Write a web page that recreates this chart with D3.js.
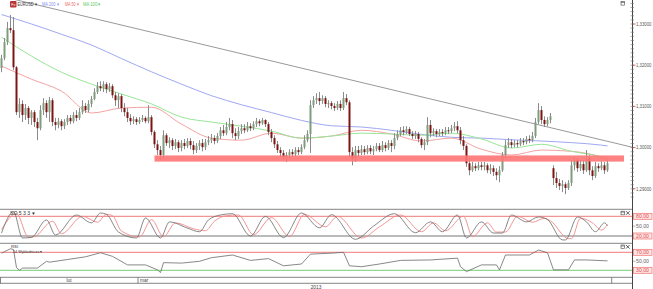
<!DOCTYPE html>
<html>
<head>
<meta charset="utf-8">
<script src="https://cdn.jsdelivr.net/npm/d3@7"></script>
<style>
  body { margin: 0; background: #fff; }
  svg { display: block; font-family: "Liberation Sans", Arial, sans-serif; }
</style>
</head>
<body>
<div id="chart"></div>
<script>
// EURUSD candles, prices in pips (price x 10000), one entry per candle
const opens = [13193,13217,13256,13290,13285,13195,13086,13106,13079,13096,
  13072,13086,13062,13047,13091,13108,13086,13115,13062,13055,
  13064,13052,13062,13072,13064,13079,13072,13086,13101,13091,
  13106,13118,13135,13149,13144,13154,13142,13149,13127,13115,
  13125,13096,13086,13072,13064,13069,13062,13067,13072,13064,
  13074,13038,13008,12994,12982,13030,13011,13018,13004,13013,
  12999,13011,13004,13016,13006,12994,13004,13011,13001,13013,
  13018,13023,13016,13028,13042,13035,13050,13057,13035,13028,
  13040,13047,13042,13052,13047,13057,13064,13059,13067,13057,
  13038,13023,13008,12994,12987,12977,12982,12989,12984,12994,
  12989,13001,13018,13033,13103,13115,13120,13113,13120,13106,
  13108,13101,13096,13106,13096,13120,13110,12989,12974,12994,
  12987,12996,12989,12999,12991,12996,13004,12994,13006,12999,
  13011,13004,13023,13033,13042,13038,13045,13033,13028,13033,
  13021,13006,13013,13055,13035,13040,13033,13038,13035,13042,
  13040,13047,13052,13042,13018,13004,12962,12945,12955,12950,
  12957,12953,12957,12945,12950,12941,12933,12945,12982,13006,
  13013,13006,13011,13008,13016,13013,13021,13018,13028,13062,
  13091,13067,13057,13067,12950,12926,12914,12907,12911,12902,
  12914,12957,12970,12950,12960,12945,12974,12945,12931,12955,
  12950,12957,12945];
const highs = [13225,13266,13305,13322,13317,13198,13120,13115,13106,13101,
  13091,13091,13072,13103,13120,13115,13123,13120,13072,13072,
  13069,13069,13079,13079,13086,13091,13096,13115,13108,13115,
  13125,13144,13159,13161,13161,13159,13157,13154,13135,13132,
  13130,13108,13096,13081,13076,13074,13074,13079,13076,13103,
  13079,13042,13018,13004,13042,13035,13025,13023,13021,13018,
  13018,13021,13023,13023,13016,13011,13018,13021,13021,13028,
  13033,13030,13035,13050,13055,13062,13072,13067,13047,13050,
  13057,13057,13062,13059,13064,13072,13069,13072,13069,13062,
  13045,13030,13016,13001,12994,12989,12996,12996,13001,13001,
  13008,13030,13042,13115,13125,13132,13135,13127,13125,13115,
  13113,13108,13113,13115,13135,13130,13115,13001,13004,13004,
  13006,13004,13006,13006,13004,13011,13011,13016,13013,13018,
  13018,13035,13042,13050,13052,13052,13050,13040,13040,13038,
  13025,13021,13074,13067,13047,13045,13045,13045,13050,13050,
  13055,13062,13064,13050,13028,13008,12974,12965,12962,12965,
  12965,12965,12962,12960,12957,12950,12955,12989,13018,13023,
  13021,13018,13018,13023,13023,13028,13030,13038,13072,13108,
  13101,13076,13074,13084,12957,12941,12924,12921,12916,12921,
  12970,12977,12974,12970,12970,12994,12982,12955,12965,12962,
  12967,12965,12970];
const lows = [13183,13212,13249,13278,13188,13079,13072,13062,13067,13057,
  13055,13050,13018,13042,13079,13072,13062,13052,13042,13047,
  13042,13045,13055,13057,13059,13064,13067,13081,13084,13086,
  13098,13115,13130,13137,13135,13132,13135,13120,13101,13096,
  13086,13076,13062,13055,13057,13055,13057,13062,13059,13059,
  13030,12999,12982,12970,12974,13004,12999,12994,12996,12989,
  12991,12996,12999,12996,12984,12987,12994,12991,12994,13006,
  13011,13008,13011,13021,13028,13030,13042,13023,13018,13021,
  13033,13035,13038,13040,13042,13050,13052,13055,13050,13030,
  13013,12999,12987,12977,12970,12965,12974,12977,12979,12982,
  12984,12996,13013,12987,13096,13106,13103,13106,13098,13096,
  13093,13089,13091,13089,13091,13103,12977,12957,12965,12977,
  12982,12982,12984,12984,12982,12991,12989,12989,12991,12994,
  12989,12996,13018,13028,13030,13033,13028,13021,13021,13013,
  12999,12994,13006,13025,13028,13025,13028,13028,13030,13033,
  13035,13040,13035,13008,12994,12953,12933,12941,12943,12945,
  12945,12945,12938,12936,12931,12921,12916,12941,12974,12999,
  12999,13001,13001,13004,13006,13008,13011,13013,13023,13057,
  13057,13050,13052,13059,12909,12902,12897,12892,12887,12897,
  12907,12945,12941,12943,12936,12941,12933,12921,12926,12941,
  12945,12936,12941];
const closes = [13217,13256,13290,13285,13195,13086,13106,13079,13096,13072,
  13086,13062,13047,13091,13108,13086,13115,13062,13055,13064,
  13052,13062,13072,13064,13079,13072,13086,13101,13091,13106,
  13118,13135,13149,13144,13154,13142,13149,13127,13115,13125,
  13096,13086,13072,13064,13069,13062,13067,13072,13064,13074,
  13038,13008,12994,12982,13030,13011,13018,13004,13013,12999,
  13011,13004,13016,13006,12994,13004,13011,13001,13013,13018,
  13023,13016,13028,13042,13035,13050,13057,13035,13028,13040,
  13047,13042,13052,13047,13057,13064,13059,13067,13057,13038,
  13023,13008,12994,12987,12977,12982,12989,12984,12994,12989,
  13001,13018,13033,13103,13115,13120,13113,13120,13106,13108,
  13101,13096,13106,13096,13120,13110,12989,12974,12994,12987,
  12996,12989,12999,12991,12996,13004,12994,13006,12999,13011,
  13004,13023,13033,13042,13038,13045,13033,13028,13033,13021,
  13006,13013,13055,13035,13040,13033,13038,13035,13042,13040,
  13047,13052,13042,13018,13004,12962,12945,12955,12950,12957,
  12953,12957,12945,12950,12941,12933,12945,12982,13006,13013,
  13006,13011,13008,13016,13013,13021,13018,13028,13062,13091,
  13067,13057,13067,13076,12926,12914,12907,12911,12902,12914,
  12957,12970,12950,12960,12945,12974,12945,12931,12955,12950,
  12957,12945,12962];

// moving averages, sampled at candle indices
const maIdx = [0,10,20,30,40,50,60,70,80,90,100,110,120,130,140,150,160,170,180,190,200,202];
const ma200 = [13323,13300,13275,13249,13216,13184,13154,13126,13104,13085,13066,13053,13050,13042,13032,13025,13023,13019,13016,13012,13006,13004];
const ma50 = [13198,13166,13137,13084,13096,13098,13057,13023,13018,13035,13023,13028,13042,13033,13016,13023,12996,12982,12994,12991,12977,12972];
const ma100 = [13268,13222,13183,13154,13130,13106,13074,13062,13052,13040,13023,13028,13035,13033,13030,13035,13021,12999,13008,12991,12977,12972];

// trend line and support zone
const trendIdx = [-0.5, 210.2];
const trendPrice = [1.3368, 1.3001];
const zoneIdx = [51, 207.5];
const zonePrice = [1.2966, 1.2981];

// stochastic oscillator (turning points)
const stochKIdx = [0,4,7,10,15,18,25,30,33,35,39,45,48,53,56,62,66,69,73,77,83,88,94,100,106,110,118,124,131,138,143,147,152,155,160,164,167,170,175,179,182,187,188,192,195,198,201,202];
const stochK = [29,94,14,16,69,23,84,60,90,86,32,14,75,14,63,44,33,69,84,88,20,80,15,90,45,85,10,50,88,30,63,33,84,14,63,29,29,84,63,78,70,8,8,78,63,33,60,51];
const stochDIdx = [0,5,9,11,17,20,27,32,35,37,40,46,50,54,58,64,68,71,75,79,84,90,96,101,108,112,120,126,133,140,144,148,154,157,162,165,168,172,177,181,183,189,190,193,197,200,202];
const stochD = [40,88,16,18,65,27,80,62,86,82,35,17,70,18,60,42,36,65,82,84,24,76,18,86,48,80,14,48,84,33,60,36,80,18,60,32,32,80,62,74,66,12,12,74,60,38,55];

// RSI
const rsiIdx = [0,3,4,5,6,7,12,15,16,22,28,33,37,42,48,52,53,54,60,66,70,77,83,89,94,100,103,110,114,116,120,126,133,143,152,153,155,160,165,166,168,176,179,182,184,189,191,195,202];
const rsi = [68,78,76,36,30,35,35,50,48,54,60,69,61,42,42,31,25,47,46,50,58,64,52,56,40,44,66,68,70,40,38,44,52,53,57,38,27,42,42,31,64,64,75,69,31,31,53,53,51];

// axes
const priceTicks = [1.29, 1.30, 1.31, 1.32, 1.33];
const stochLevels = [80, 50, 20];
const rsiLevels = [70, 50, 30];
const months = ["lut", "mar"];
const monthBreaks = [-0.5, 45.5, 203.4];
const year = "2013";

const W = 653, H = 289, AX = 632;
const svg = d3.select("#chart").append("svg").attr("width", W).attr("height", H);

const x = d3.scaleLinear().domain([-0.5, 210.17]).range([0, AX]);
const y = d3.scaleLinear().domain([1.29, 1.33]).range([188.8, 24]);
const yS = d3.scaleLinear().domain([20, 80]).range([236, 216.3]);
const yR = d3.scaleLinear().domain([30, 70]).range([270.3, 252.3]);
const fmt = v => d3.format(".5f")(v).replace(".", ",");
const fmt2 = v => d3.format(".2f")(v).replace(".", ",");

const defs = svg.append("defs");
[["cp", 0, 209], ["cs", 209.8, 33], ["cr", 243.8, 33]].forEach(([id, y0, h]) => {
  defs.append("clipPath").attr("id", id).append("rect").attr("x", 0).attr("y", y0).attr("width", AX).attr("height", h);
});

// ---------- price panel ----------
const price = svg.append("g").attr("clip-path", "url(#cp)");

const maLine = d3.line().x(d => x(d[0])).y(d => y(d[1] / 1e4)).curve(d3.curveMonotoneX);
[[ma200, "#9fa8f2"], [ma50, "#f4a3a3"], [ma100, "#98e698"]].forEach(([vals, col]) => {
  price.append("path")
    .datum(maIdx.map((d, i) => [d, vals[i]]))
    .attr("d", maLine).attr("fill", "none").attr("stroke", col).attr("stroke-width", 1);
});

price.append("line")
  .attr("x1", x(trendIdx[0])).attr("y1", y(trendPrice[0]))
  .attr("x2", x(trendIdx[1])).attr("y2", y(trendPrice[1]))
  .attr("stroke", "#999").attr("stroke-width", 1);

const candles = d3.range(closes.length).map(i => ({
  i, o: opens[i] / 1e4, h: highs[i] / 1e4, l: lows[i] / 1e4, c: closes[i] / 1e4
}));
const gc = price.append("g");
gc.selectAll("line").data(candles).join("line")
  .attr("x1", d => x(d.i)).attr("x2", d => x(d.i))
  .attr("y1", d => y(d.h)).attr("y2", d => y(d.l))
  .attr("stroke", "#8a8a8a").attr("stroke-width", 1);
gc.selectAll("rect").data(candles).join("rect")
  .attr("x", d => x(d.i) - 1).attr("width", 2)
  .attr("y", d => y(Math.max(d.o, d.c)))
  .attr("height", d => Math.max(1, Math.abs(y(d.o) - y(d.c))))
  .attr("fill", d => d.c >= d.o ? "#7e9c7e" : "#7d1414");

price.append("rect")
  .attr("x", x(zoneIdx[0])).attr("width", x(zoneIdx[1]) - x(zoneIdx[0]))
  .attr("y", y(zonePrice[1])).attr("height", y(zonePrice[0]) - y(zonePrice[1]))
  .attr("fill", "#ff7474").attr("opacity", 0.9);

// ---------- stochastic panel ----------
const stoch = svg.append("g").attr("clip-path", "url(#cs)");
stoch.append("line").attr("x1", 0).attr("x2", AX).attr("y1", yS(80)).attr("y2", yS(80))
  .attr("stroke", "#f07a7a").attr("stroke-width", 1);
stoch.append("line").attr("x1", 0).attr("x2", AX).attr("y1", yS(20)).attr("y2", yS(20))
  .attr("stroke", "#777").attr("stroke-width", 1);
const sLine = d3.line().x(d => x(d[0])).y(d => yS(d[1])).curve(d3.curveMonotoneX);
stoch.append("path").datum(stochDIdx.map((d, i) => [d, stochD[i]]))
  .attr("d", sLine).attr("fill", "none").attr("stroke", "#f08a8a").attr("stroke-width", 0.9);
stoch.append("path").datum(stochKIdx.map((d, i) => [d, stochK[i]]))
  .attr("d", sLine).attr("fill", "none").attr("stroke", "#6a6a6a").attr("stroke-width", 0.8);

// ---------- RSI panel ----------
const rsiG = svg.append("g").attr("clip-path", "url(#cr)");
rsiG.append("line").attr("x1", 0).attr("x2", AX).attr("y1", yR(70)).attr("y2", yR(70))
  .attr("stroke", "#f07a7a").attr("stroke-width", 1);
rsiG.append("line").attr("x1", 0).attr("x2", AX).attr("y1", yR(30)).attr("y2", yR(30))
  .attr("stroke", "#8fd88f").attr("stroke-width", 1.2);
rsiG.append("path").datum(rsiIdx.map((d, i) => [d, rsi[i]]))
  .attr("d", d3.line().x(d => x(d[0])).y(d => yR(d[1])))
  .attr("fill", "none").attr("stroke", "#6a6a6a").attr("stroke-width", 0.8);

// ---------- frame ----------
[209.3, 243.3, 277.3, 283.3].forEach(v => {
  svg.append("line").attr("x1", 0).attr("x2", AX).attr("y1", v).attr("y2", v)
    .attr("stroke", "#666").attr("stroke-width", 0.8);
});
svg.append("line").attr("x1", AX + 0.5).attr("x2", AX + 0.5).attr("y1", 0).attr("y2", H)
  .attr("stroke", "#444").attr("stroke-width", 1);

// price axis
svg.append("g").selectAll("line").data(d3.range(1.288, 1.3361, 0.001)).join("line")
  .attr("x1", AX - 1.5).attr("x2", AX + 2).attr("y1", d => y(d)).attr("y2", d => y(d))
  .attr("stroke", "#777").attr("stroke-width", 0.6);
const pt = svg.append("g").selectAll("g").data(priceTicks).join("g")
  .attr("transform", d => `translate(${AX},${y(d)})`);
pt.append("line").attr("x1", 1).attr("x2", 3.5).attr("stroke", "#d04040").attr("stroke-width", 0.8);
pt.append("text").attr("x", 4).attr("dy", "0.35em").attr("font-size", 5)
  .attr("textLength", 15.5).attr("lengthAdjust", "spacingAndGlyphs")
  .attr("fill", "#555").text(fmt);

// indicator level labels
function levelLabels(levels, scale) {
  const g = svg.append("g").selectAll("g").data(levels).join("g")
    .attr("transform", d => `translate(${AX},${scale(d)})`);
  g.filter(d => d !== 50).append("rect")
    .attr("x", 1.5).attr("y", -3).attr("width", 18.5).attr("height", 6)
    .attr("fill", "#ffe4e4").attr("stroke", "#f07070").attr("stroke-width", 0.7);
  g.filter(d => d === 50).append("line").attr("x1", 1).attr("x2", 3.5)
    .attr("stroke", "#999").attr("stroke-width", 0.7);
  g.append("text").attr("x", 4).attr("dy", "0.35em").attr("font-size", 4.8)
    .attr("textLength", 13).attr("lengthAdjust", "spacingAndGlyphs")
    .attr("fill", d => d === 50 ? "#666" : "#e05050").text(fmt2);
}
levelLabels(stochLevels, yS);
levelLabels(rsiLevels, yR);

// time axis
svg.append("g").selectAll("line").data(monthBreaks).join("line")
  .attr("x1", d => Math.max(0.5, x(d))).attr("x2", d => Math.max(0.5, x(d)))
  .attr("y1", 277.3).attr("y2", 283.3).attr("stroke", "#666").attr("stroke-width", 0.8);
svg.append("g").selectAll("text").data(months).join("text")
  .attr("x", (d, i) => i === 0 ? (Math.max(0, x(monthBreaks[0])) + x(monthBreaks[1])) / 2 : x(monthBreaks[i]) + 2)
  .attr("text-anchor", (d, i) => i === 0 ? "middle" : "start")
  .attr("y", 282.3).attr("font-size", 4.8).attr("fill", "#444").text(d => d);
svg.append("text").attr("x", AX / 2).attr("y", 288.5).attr("text-anchor", "middle")
  .attr("font-size", 4.8).attr("fill", "#444").text(year);

// legend
svg.append("rect").attr("x", 10).attr("y", 1).attr("width", 6.5).attr("height", 6.5).attr("rx", 1).attr("fill", "#b83636");
svg.append("text").attr("x", 13.25).attr("y", 5.8).attr("text-anchor", "middle").attr("font-size", 3.6)
  .attr("fill", "#fff").text("Fx");
[["EURUSD ▾", 17.5, 19.5, "#333"], ["MA 200 ▾", 42, 17, "#7f8ff0"], ["MA 50 ▾", 65, 14, "#f06a6a"], ["MA 100 ▾", 83, 18, "#5cc85c"]]
  .forEach(([t, px, len, col]) => {
    svg.append("text").attr("x", px).attr("y", 6.2).attr("font-size", 4.8)
      .attr("textLength", len).attr("lengthAdjust", "spacingAndGlyphs")
      .attr("fill", col).text(t);
  });
svg.append("text").attr("x", 10).attr("y", 214.6).attr("font-size", 4.6)
  .attr("textLength", 25).attr("lengthAdjust", "spacingAndGlyphs").attr("fill", "#333").text("SO 5 3 3 ▾");
svg.append("text").attr("x", 11).attr("y", 248).attr("font-size", 4.3).attr("fill", "#333").text("RSI");
svg.append("text").attr("x", 13).attr("y", 252.6).attr("font-size", 4.3)
  .attr("textLength", 29).attr("lengthAdjust", "spacingAndGlyphs").attr("fill", "#333").text("14 Wykładnicza ▾");

// panel buttons
function buttons(yy, close) {
  svg.append("rect").attr("x", 621).attr("y", yy).attr("width", 3.6).attr("height", 3.6)
    .attr("fill", "none").attr("stroke", "#444").attr("stroke-width", 0.6);
  svg.append("line").attr("x1", 621).attr("x2", 624.6).attr("y1", yy + 1).attr("y2", yy + 1)
    .attr("stroke", "#444").attr("stroke-width", 0.6);
  if (close) {
    svg.append("path").attr("d", `M626,${yy}l3.6,3.6M629.6,${yy}l-3.6,3.6`)
      .attr("stroke", "#333").attr("stroke-width", 0.8);
  }
}
buttons(1.5, false);
buttons(211.2, true);
buttons(245, true);
</script>
</body>
</html>
